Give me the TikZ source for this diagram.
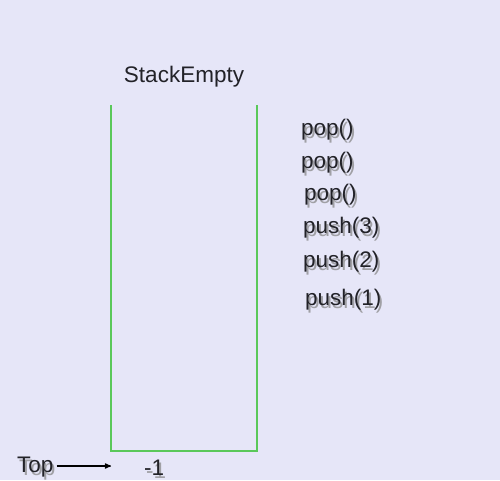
\documentclass[tikz,border=0pt]{standalone}
\usepackage{fontspec}
\setmainfont{Liberation Sans}
\usetikzlibrary{arrows}
\usetikzlibrary{calc}
\definecolor{bgcol}{RGB}{230,230,248}
\definecolor{stackgreen}{RGB}{90,200,90}
\definecolor{shadowgrey}{RGB}{160,160,165}
\definecolor{textgrey}{RGB}{34,34,40}
\tikzstyle{op} = [anchor=base west, inner sep=0pt, text=textgrey, font=\fontsize{22.5}{26}\selectfont]
\tikzstyle{opshadow} = [op, text=shadowgrey]
\tikzstyle{wall} = [draw=stackgreen, line width=2pt]
\tikzstyle{arrow} = [line width=1.2pt, ->, >=stealth']
\newcommand{\shadowop}[3]{%
  \node [opshadow] at ($(#2)+(2,3)$) {#3};
  \node (#1) [op] at (#2) {#3};}

\begin{document}
\begin{tikzpicture}[x=1pt, y=-1pt]
% background
\fill [bgcol] (0,0) rectangle (500,480);
\useasboundingbox (0,0) rectangle (500,480);

% stack
\coordinate (tl) at (111,105);
\coordinate (bl) at (111,451);
\coordinate (br) at (257,451);
\coordinate (tr) at (257,105);
\draw [wall] (tl) -- (bl) -- (br) -- (tr);

% title
\node (title) [op, anchor=base] at (184,82) {StackEmpty};

% operations
\shadowop{pop1}{301,135}{pop()}
\shadowop{pop2}{301,168}{pop()}
\shadowop{pop3}{304,200}{pop()}
\shadowop{push3}{303,233}{push(3)}
\shadowop{push2}{303,267}{push(2)}
\shadowop{push1}{305,305}{push(1)}

% top pointer
\shadowop{top}{17,472}{Top}
\shadowop{minusone}{144,475}{-1}
\coordinate (topend) at (111,466);
\draw [arrow] ([xshift=3pt]top.east |- topend) -- (topend);

\end{tikzpicture}
\end{document}
